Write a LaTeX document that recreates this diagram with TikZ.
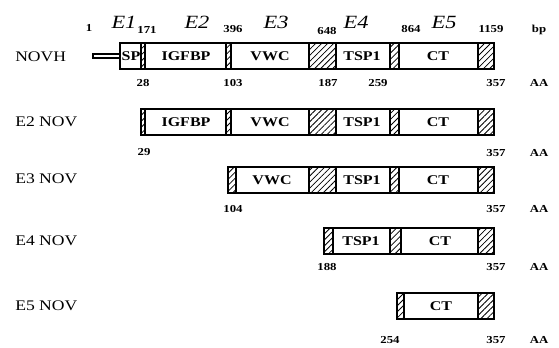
\documentclass[tikz,border=0pt]{standalone}
\usepackage{fontspec}
\setmainfont{Liberation Serif}[FakeStretch=1.2]
\usetikzlibrary{patterns.meta}
\tikzset{
  box/.style={draw,line width=1pt,fill=white},
  hatch/.style={draw,line width=0.8pt,pattern={Lines[angle=45,distance=3.2pt,line width=0.6pt]}},
  rowlab/.style={anchor=west,inner sep=0pt,font=\fontsize{11}{12}\selectfont},
  dom/.style={inner sep=0pt,font=\fontsize{10}{12}\selectfont\bfseries},
  num/.style={inner sep=0pt,font=\fontsize{8}{9}\selectfont\bfseries},
  exon/.style={inner sep=0pt,font=\fontsize{14}{16}\selectfont\itshape}
}
\begin{document}
\begin{tikzpicture}[x=0.75pt,y=-0.75pt]
\useasboundingbox (0,0) rectangle (559,347);

% exons and bp positions
\foreach \n/\x/\s in {eone/124/E1,etwo/197/E2,ethree/276/E3,efour/356/E4,efive/444/E5}
{
    \node[exon] (\n) at (\x,22) {\s};
}
\foreach \n/\x/\y/\s in {bpa/89/28/1,bpb/147/30/171,bpc/233/29/396,bpd/327/31/648,bpe/411/29/864,bpf/491/29/1159,bp/539/30/bp}
{
    \node[num] (\n) at (\x,\y) {\s};
}

% row names
\foreach \n/\y/\s in {novh/57/NOVH,novb/122/E2 NOV,novc/179/E3 NOV,novd/241/E4 NOV,nove/306/E5 NOV}
{
    \node[rowlab] (\n) at (15,\y) {\s};
}

% tail of NOVH
\draw[line width=0.8pt,fill=white] (93,54) rectangle (120,58);

% boxes
\foreach \t/\l in {43/120,109/141,167/228,228/324,293/397}
{
    \draw[box] (\l,\t) rectangle (494,\t+26);
}

% hatched parts
\foreach \t/\a/\b in {43/141/145,43/226/231,43/309/336,43/390/399,43/478/494,
                      109/141/145,109/226/231,109/309/336,109/390/399,109/478/494,
                      167/228/236,167/309/336,167/390/399,167/478/494,
                      228/324/333,228/390/401,228/478/494,
                      293/397/404,293/478/494}
{
    \draw[hatch] (\a,\t) rectangle (\b,\t+26);
}

% domains
\foreach \n/\x/\y/\s in {spa/131/56/SP,igfa/186/56/IGFBP,vwca/270/56/VWC,tspa/362/56/TSP1,cta/438/56/CT,
                         igfb/186/122/IGFBP,vwcb/270/122/VWC,tspb/362/122/TSP1,ctb/438/122/CT,
                         vwcc/272/180/VWC,tspc/362/180/TSP1,ctc/438/180/CT,
                         tspd/361/241/TSP1,ctd/440/241/CT,
                         cte/441/306/CT}
{
    \node[dom] (\n) at (\x,\y) {\s};
}

% AA positions
\foreach \n/\x/\y/\s in {aaa/143/83/28,aab/233/83/103,aac/328/83/187,aad/378/83/259,
                         aae/144/152/29,aaf/233/209/104,aag/327/267/188,aah/390/340/254}
{
    \node[num] (\n) at (\x,\y) {\s};
}
\foreach \r/\y in {a/83,b/153,c/209,d/267,e/340}
{
    \node[num] (end\r) at (496,\y) {357};
    \node[num] (aa\r) at (539,\y) {AA};
}
\end{tikzpicture}
\end{document}
